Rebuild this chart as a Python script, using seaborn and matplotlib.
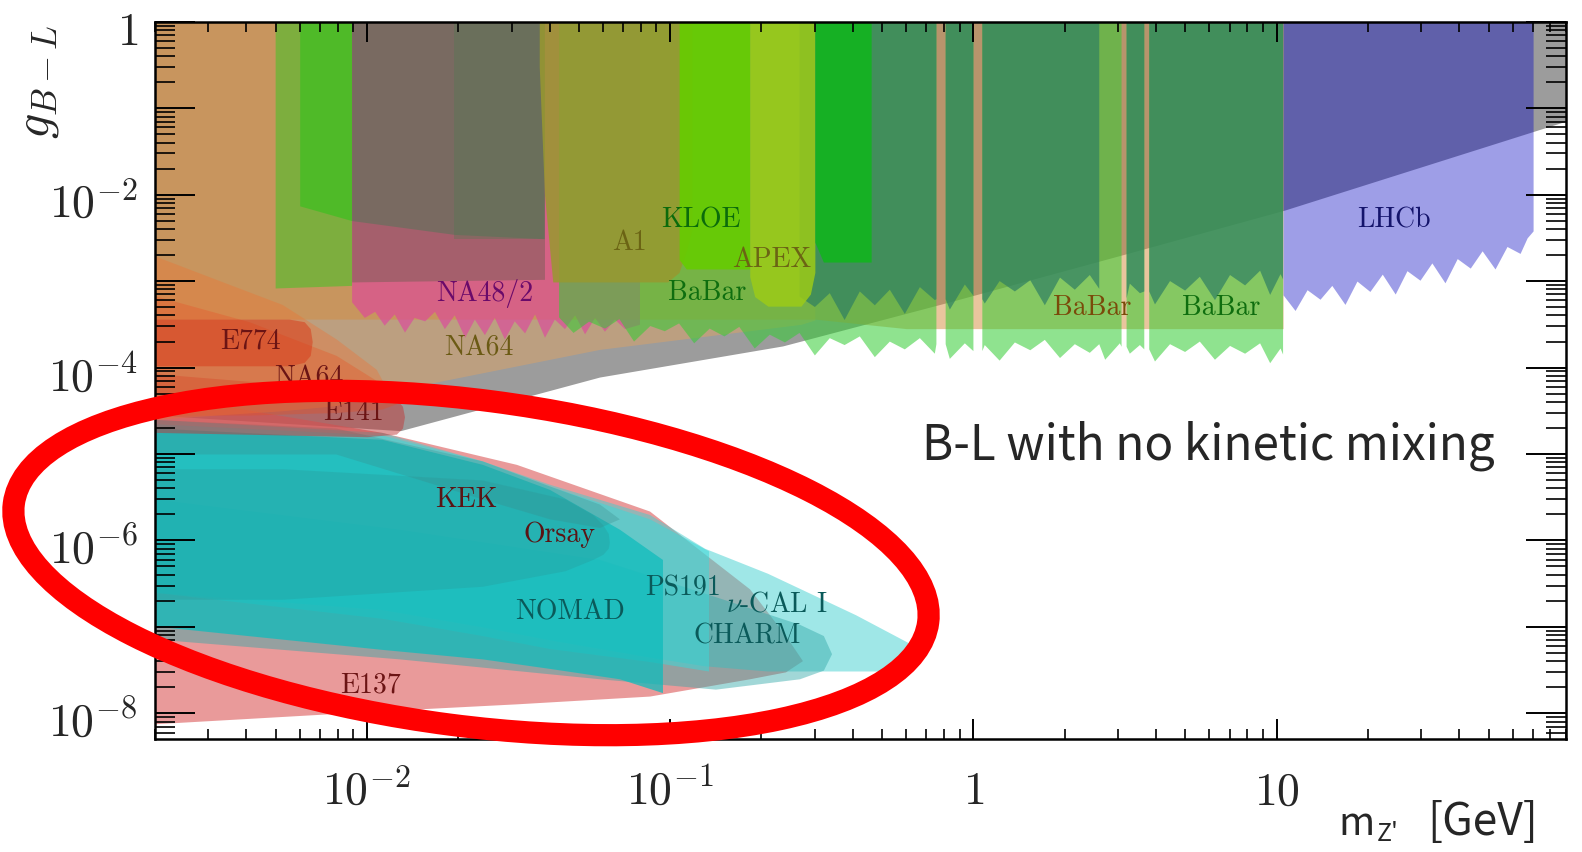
import numpy as np
import pandas as pd
import seaborn as sns
import matplotlib.pyplot as plt
from matplotlib.patches import Ellipse
from matplotlib.ticker import FixedLocator, LogLocator, NullFormatter
from matplotlib.transforms import blended_transform_factory, ScaledTranslation

# masses in GeV, couplings given as log10(g_B-L)
gray_m = [0.002, 0.0129, 0.0585, 0.235, 0.836, 3.0, 10.6, 90]
gray_lo = [-4.55, -4.73, -4.11, -3.75, -3.24, -2.71, -2.18, -1.15]

tanA_m = [0.002, 0.0129, 0.0585, 0.27, 0.30]
tanA_lo = [-4.37, -4.25, -3.79, -3.50, -3.45]
tanB_m = [0.002, 0.30, 0.6, 10.5]
tanB_lo = [-3.44, -3.44, -3.55, -3.55]

g1_m = [0.00498, 0.0089]
g1_lo = [-3.08, -3.05]
g2_m = [0.006, 0.0089]
g2_lo = [-2.13, -2.30]

na48_m = [0.0089, 0.0098, 0.0106, 0.0114, 0.0123, 0.0133, 0.0143, 0.0155, 0.0167, 0.018,
          0.0194, 0.021, 0.0226, 0.0244, 0.0263, 0.0284, 0.0306, 0.0331, 0.0357, 0.0385,
          0.0415, 0.0448, 0.0484, 0.0522, 0.0563, 0.0607, 0.0655, 0.0707, 0.0792]
na48_lo = [-3.24, -3.42, -3.35, -3.51, -3.38, -3.59, -3.42, -3.46, -3.35, -3.55,
           -3.39, -3.65, -3.44, -3.62, -3.42, -3.67, -3.46, -3.60, -3.38, -3.65,
           -3.44, -3.55, -3.39, -3.61, -3.42, -3.58, -3.44, -3.55, -3.50]

darkm_m = [0.0089, 0.0385]
darkm_lo = [-3.01, -2.98]
dark_m = [0.0089, 0.0194, 0.0385]
dark_lo = [-2.30, -2.46, -2.51]
dark2_m = [0.0194, 0.0385]
dark2_lo = [-2.51, -2.51]

a1_m = [0.037, 0.0385, 0.041, 0.098, 0.107, 0.113, 0.118]
a1_lo = [-0.52, -2.0, -3.01, -3.01, -2.90, -2.65, -2.40]
kloe_m = [0.107, 0.113, 0.118, 0.183]
kloe_lo = [-2.75, -2.86, -2.86, -2.86]
apex_m = [0.183, 0.19, 0.21, 0.27, 0.29, 0.30]
apex_lo = [-2.95, -3.18, -3.29, -3.29, -3.15, -2.90]
kloe2_m = [0.30, 0.32, 0.46]
kloe2_lo = [-2.55, -2.78, -2.78]

babar_m = [0.043, 0.048, 0.054, 0.061, 0.068, 0.076, 0.086, 0.096, 0.107, 0.12,
           0.135, 0.151, 0.169, 0.19, 0.213, 0.239, 0.267, 0.30, 0.336, 0.376,
           0.422, 0.473, 0.53, 0.594, 0.666, 0.746, 0.755, 0.78, 0.81, 0.836,
           0.937, 1.0, 1.03, 1.07, 1.09, 1.22, 1.37, 1.54, 1.72, 1.93,
           2.16, 2.42, 2.6, 2.72, 3.04, 3.08, 3.14, 3.2, 3.28, 3.54,
           3.66, 3.73, 3.8, 3.97, 4.45, 4.99, 5.58, 6.26, 7.02, 7.87,
           8.82, 9.52, 10.3, 10.5]
babar1_lo = [-3.42, -3.60, -3.47, -3.55, -3.44, -3.70, -3.52, -3.58, -3.49, -3.72,
             -3.55, -3.64, -3.53, -3.78, -3.62, -3.71, -3.60, -3.86, -3.66, -3.74,
             -3.64, -3.88, -3.70, -3.79, -3.66, -3.84, -3.73, -3.73, -3.73, -3.90,
             -3.72, -3.81, -3.81, -3.81, -3.74, -3.92, -3.71, -3.80, -3.68, -3.89,
             -3.73, -3.83, -3.73, -3.91, -3.72, -3.76, -3.76, -3.76, -3.84, -3.74,
             -3.79, -3.79, -3.79, -3.93, -3.73, -3.82, -3.70, -3.91, -3.75, -3.84,
             -3.72, -3.95, -3.78, -3.85]
babar2_lo = [-3.21, -3.21, -3.21, -3.21, -3.21, -3.21, -3.21, -3.21, -3.21, -3.21,
             -3.21, -3.21, -3.21, -3.21, -3.21, -3.40, -3.18, -3.30, -3.14, -3.45,
             -3.12, -3.28, -3.10, -3.38, -3.07, -3.22, -3.21, -3.21, -3.21, -3.33,
             -3.04, -3.17, -3.21, -3.21, -3.26, -3.00, -3.12, -2.99, -3.28, -2.96,
             -3.10, -2.93, -3.09, -3.09, -3.09, -3.09, -3.09, -3.20, -3.03, -3.14,
             -3.12, -3.12, -3.12, -3.27, -3.00, -3.11, -2.95, -3.22, -2.93, -3.05,
             -2.88, -3.16, -2.92, -2.98]
babar1_gaps = [(0.755, 0.81), (1.0, 1.07), (3.08, 3.2), (3.66, 3.8)]
babar2_gaps = [(0.04, 0.25), (0.755, 0.81), (1.0, 1.07), (2.6, 3.2), (3.66, 3.8)]

lhcb_m = [10.5, 11.5, 12.6, 13.9, 15.2, 16.8, 18.4, 20.3, 22.3, 24.6, 26.9,
          29.7, 32.5, 35.9, 39.4, 43.5, 47.6, 52.5, 57.5, 63.5, 67.0, 70.1]
lhcb_lo = [-3.16, -3.34, -3.10, -3.21, -3.05, -3.27, -3.00, -3.12, -2.92, -3.15, -2.88,
           -2.99, -2.79, -3.02, -2.74, -2.85, -2.65, -2.86, -2.60, -2.68, -2.50, -2.42]

# beam dump lobes (lower and upper edges)
e137_m = [0.002, 0.0112, 0.0311, 0.0855, 0.1827, 0.24, 0.273]
e137_lo = [-8.12, -7.97, -7.89, -7.80, -7.60, -7.52, -7.39]
e137_hi = [-4.31, -4.75, -5.12, -5.66, -6.56, -7.10, -7.39]

nucal_m = [0.002, 0.0112, 0.024, 0.04, 0.0855, 0.1298, 0.2095, 0.409, 0.616]
nucal_lo = [-6.6, -6.8, -7.0, -7.15, -7.35, -7.45, -7.51, -7.51, -7.51]
nucal_hi = [-4.60, -4.75, -5.08, -5.35, -5.70, -6.09, -6.38, -6.86, -7.19]

charm_m = [0.002, 0.0128, 0.0585, 0.141, 0.267, 0.32, 0.3405]
charm_lo = [-7.14, -7.37, -7.60, -7.72, -7.60, -7.50, -7.31]
charm_hi = [-5.52, -5.87, -6.22, -6.65, -6.97, -7.10, -7.31]

ps191_m = [0.002, 0.0112, 0.024, 0.04, 0.0855, 0.1338]
ps191_lo = [-6.6, -6.9, -7.1, -7.25, -7.4, -7.51]
ps191_hi = [-4.65, -4.78, -5.08, -5.37, -5.75, -6.12]

nomad_m = [0.002, 0.0112, 0.024, 0.04, 0.068, 0.0943]
nomad_lo = [-6.99, -7.26, -7.37, -7.48, -7.60, -7.76]
nomad_hi = [-4.70, -4.83, -5.12, -5.41, -5.87, -6.22]

orsay_m = [0.002, 0.00525, 0.024, 0.045, 0.0555, 0.060, 0.0625, 0.063]
orsay_lo = [-6.68, -6.68, -6.53, -6.35, -6.22, -6.16, -6.09, -6.02]
orsay_hi = [-5.17, -5.17, -5.30, -5.52, -5.70, -5.82, -5.92, -6.02]

kek_m = [0.002, 0.0079, 0.024, 0.04, 0.0585, 0.068]
kek_lo = [-5.0, -5.0, -5.52, -5.75, -5.85, -5.75]
kek_hi = [-4.60, -4.70, -5.08, -5.37, -5.58, -5.75]

e141_m = [0.002, 0.01, 0.0125, 0.0131, 0.0133]
e141_lo = [-4.75, -4.80, -4.77, -4.70, -4.57]
e141_hi = [-4.07, -4.27, -4.36, -4.45, -4.57]

na64v_m = [0.002, 0.00409, 0.00792, 0.0112, 0.0125]
na64v_lo = [-4.55, -4.55, -4.52, -4.48, -4.42]
na64v_hi = [-3.17, -3.47, -3.86, -4.19, -4.42]

orange_m = [0.002, 0.00318, 0.00525, 0.00792, 0.01073, 0.0114]
orange_lo = [-4.60, -4.55, -4.50, -4.44, -4.31, -4.19]
orange_hi = [-2.71, -2.98, -3.27, -3.67, -4.02, -4.19]

e774_m = [0.002, 0.00554, 0.00621, 0.0065, 0.0066]
e774_lo = [-3.98, -3.98, -3.94, -3.86, -3.70]
e774_hi = [-3.44, -3.44, -3.47, -3.55, -3.70]

label_text = ["KLOE", "A1", "APEX", "BaBar", "NA48/2", "NA64", "E774", "NA64", "E141",
              "KEK", "Orsay", "NOMAD", "PS191", r"$\nu$-CAL I", "CHARM", "E137",
              "BaBar", "BaBar", "LHCb"]
label_m = [0.126, 0.0734, 0.216, 0.1327, 0.0244, 0.0233, 0.00412, 0.00645, 0.00901,
           0.0213, 0.0432, 0.0469, 0.110, 0.2245, 0.180, 0.01026, 2.46, 6.56, 24.4]
label_g = [5.2e-3, 2.83e-3, 1.8e-3, 7.5e-4, 7.3e-4, 1.73e-4, 2.08e-4, 7.8e-5, 3.05e-5,
           3.0e-6, 1.19e-6, 1.52e-7, 2.9e-7, 1.89e-7, 8.05e-8, 2.18e-8, 5.0e-4, 5.0e-4, 5.2e-3]
label_color = ["#0b6b0b", "#6b6414", "#6b6414", "#0f6e0f", "#6a0a6a", "#6b5a14", "#6b1414",
               "#6b1414", "#6b1414", "#5a1414", "#5a1414", "#0a5a5a", "#0a5a5a", "#0a5a5a",
               "#0a5a5a", "#6b1414", "#7a4a0a", "#0f6e0f", "#14146b"]

x_ticks = [0.01, 0.1, 1, 10]
x_ticklabels = [r"$10^{-2}$", r"$10^{-1}$", r"$1$", r"$10$"]
y_ticks = [1, 1e-2, 1e-4, 1e-6, 1e-8]
y_ticklabels = [r"$1$", r"$10^{-2}$", r"$10^{-4}$", r"$10^{-6}$", r"$10^{-8}$"]

sns.set_theme(style="ticks")
plt.rcParams["font.family"] = ["Noto Sans CJK JP", "DejaVu Sans"]
plt.rcParams["mathtext.fontset"] = "cm"

fig = plt.figure(figsize=(15.82, 8.53), dpi=100)
ax = fig.add_axes([155 / 1582, 1 - 740.3 / 853, (1566 - 155) / 1582, (740.3 - 22.7) / 853])
ax.set_xscale("log")
ax.set_yscale("log")
ax.set_xlim(0.002, 90)
ax.set_ylim(10 ** -8.3, 1)


def keep_mask(m, gaps):
    m = np.asarray(m)
    keep = np.ones(len(m), dtype=bool)
    for a, b in gaps:
        keep &= ~((m > a) & (m < b))
    return keep


def band(m, lo, hi=None, color="k", alpha=1.0, where=None, z=1):
    lo = 10.0 ** np.asarray(lo, dtype=float)
    if hi is None:
        hi = np.ones_like(lo)
    else:
        hi = 10.0 ** np.asarray(hi, dtype=float)
    ax.fill_between(m, lo, hi, where=where, color=color, alpha=alpha, lw=0, zorder=z)


# upper (prompt / collider) limits
band(gray_m, gray_lo, color="#9c9c9c", z=1)
band(tanA_m, tanA_lo, color="#d8a26a", alpha=0.55, z=1.1)
band(tanB_m, tanB_lo, color="#d58d3d", alpha=0.5, z=1.2)
band(g1_m, g1_lo, color="#4cc02a", alpha=0.6, z=1.3)
band(g2_m, g2_lo, color="#3cc020", alpha=0.7, z=1.4)
band(na48_m, na48_lo, color="#e040a0", alpha=0.6, z=1.5)
band(darkm_m, darkm_lo, color="#4a5a40", alpha=0.35, z=1.6)
band(dark_m, dark_lo, color="#676f5d", alpha=0.7, z=1.7)
band(dark2_m, dark2_lo, color="#4f7a52", alpha=0.35, z=1.8)
band(babar_m, babar1_lo, color="#33cc33", alpha=0.55, where=keep_mask(babar_m, babar1_gaps), z=1.9)
band(babar_m, babar2_lo, color="#2e7f62", alpha=0.7, where=keep_mask(babar_m, babar2_gaps), z=2.0)
band(a1_m, a1_lo, color="#98992f", alpha=0.85, z=2.1)
band(kloe_m, kloe_lo, color="#66cc00", alpha=0.9, z=2.2)
band(apex_m, apex_lo, color="#9ccb18", alpha=0.85, z=2.3)
band(kloe2_m, kloe2_lo, color="#12b41e", alpha=0.9, z=2.4)
band(lhcb_m, lhcb_lo, color="#0000c1", alpha=0.38, z=2.5)

# beam dumps
band(e137_m, e137_lo, e137_hi, color="#e07070", alpha=0.7, z=3.0)
band(nucal_m, nucal_lo, nucal_hi, color="#40d0d0", alpha=0.5, z=3.1)
band(charm_m, charm_lo, charm_hi, color="#30a8a8", alpha=0.45, z=3.2)
band(ps191_m, ps191_lo, ps191_hi, color="#3cd8d8", alpha=0.55, z=3.3)
band(nomad_m, nomad_lo, nomad_hi, color="#0fbcbc", alpha=0.75, z=3.4)
band(orsay_m, orsay_lo, orsay_hi, color="#2a8f8f", alpha=0.25, z=3.5)
band(kek_m, kek_lo, kek_hi, color="#3a8a8a", alpha=0.3, z=3.6)
band(e141_m, e141_lo, e141_hi, color="#c03838", alpha=0.5, z=3.7)
band(na64v_m, na64v_lo, na64v_hi, color="#e0502a", alpha=0.4, z=3.8)
band(orange_m, orange_lo, orange_hi, color="#f07030", alpha=0.35, z=3.9)
band(e774_m, e774_lo, e774_hi, color="#d83818", alpha=0.5, z=4.0)

labels = pd.DataFrame({"text": label_text, "m": label_m, "g": label_g, "color": label_color})
for _, row in labels.iterrows():
    ax.text(row["m"], row["g"], row["text"], color=row["color"], fontsize=20,
            family="cmr10", ha="center", va="center", zorder=6)

# axes styling, ticks drawn over the filled regions
for sp in ax.spines.values():
    sp.set_linewidth(1.8)
    sp.set_color("black")
    sp.set_zorder(7)
ax.xaxis.set_zorder(8)
ax.yaxis.set_zorder(8)
ax.xaxis.set_major_locator(FixedLocator(x_ticks))
ax.xaxis.set_minor_locator(LogLocator(base=10, subs=np.arange(2, 10), numticks=50))
ax.yaxis.set_major_locator(FixedLocator([10.0 ** k for k in range(-8, 1)]))
ax.yaxis.set_minor_locator(LogLocator(base=10, subs=np.arange(2, 10), numticks=50))
for axis in (ax.xaxis, ax.yaxis):
    axis.set_major_formatter(NullFormatter())
    axis.set_minor_formatter(NullFormatter())
ax.tick_params(which="both", direction="in", top=True, right=True, color="black")
ax.tick_params(axis="x", which="major", length=14.4, width=1.4)
ax.tick_params(axis="x", which="minor", length=7.2, width=1.2)
ax.tick_params(axis="y", which="major", length=28.8, width=1.4)
ax.tick_params(axis="y", which="minor", length=14.4, width=1.2)

tx = blended_transform_factory(ax.transData, ax.transAxes) + ScaledTranslation(0, -0.64, fig.dpi_scale_trans)
for v, s in zip(x_ticks, x_ticklabels):
    ax.text(v, 0, s, transform=tx, ha="center", va="baseline", fontsize=33, clip_on=False)
ty = blended_transform_factory(ax.transAxes, ax.transData) + ScaledTranslation(-0.17, -0.22, fig.dpi_scale_trans)
for v, s in zip(y_ticks, y_ticklabels):
    ax.text(0, v, s, transform=ty, ha="right", va="baseline", fontsize=33, clip_on=False)

fig.text(35 / 1582, 1 - 82 / 853, r"$g_{B-L}$", rotation=90, ha="center", va="center", fontsize=36)

# annotations in sans
sans = ["Noto Sans CJK JP", "DejaVu Sans"]
note = fig.text(922 / 1582, 1 - 460 / 853, "B-L with no kinetic mixing", fontsize=40,
                family=sans, ha="left", va="baseline")
fig.text(1338 / 1582, 1 - 835 / 853, "m", fontsize=28, family=sans, ha="left", va="baseline")
fig.text(1377 / 1582, 1 - 841 / 853, "Z'", fontsize=18, family=sans, ha="left", va="baseline")
fig.text(1538 / 1582, 1 - 835 / 853, "[GeV]", fontsize=32, family=sans, ha="right", va="baseline")

fig.canvas.draw()
w = note.get_window_extent().width
note.set_fontsize(40 * 573 / w)

fig.add_artist(Ellipse((4.71, 2.89), 9.22, 3.26, angle=-7.4, transform=fig.dpi_scale_trans,
                       fill=False, edgecolor="#ff0000", linewidth=16, zorder=10))

fig.savefig("out.png", dpi=100)
